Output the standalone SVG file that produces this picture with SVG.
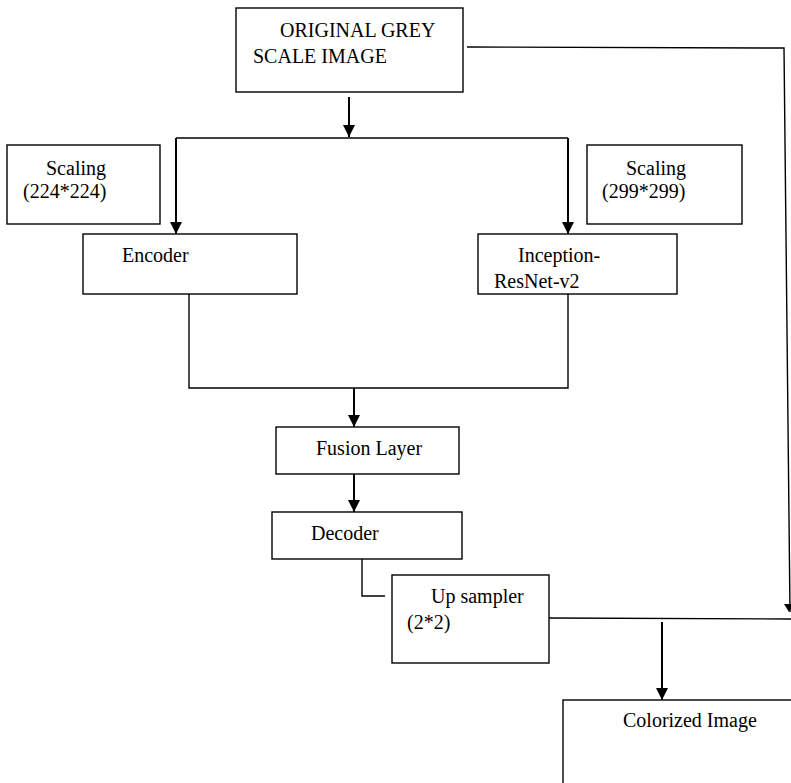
<svg xmlns="http://www.w3.org/2000/svg" width="791" height="783" viewBox="0 0 791 783">
<style>
.box{fill:#fff;stroke:#000;stroke-width:1.4}
.t{font-family:"Liberation Serif","Times New Roman",serif;font-size:20px;fill:#000}
.c{fill:none;stroke:#000;stroke-width:1.4}
.a{fill:none;stroke:#000;stroke-width:2}
</style>
<defs>
<marker id="ah" markerUnits="userSpaceOnUse" markerWidth="14" markerHeight="14" viewBox="0 0 14 14" refX="12" refY="7" orient="auto">
<path d="M0,1 L12,7 L0,13 Z" fill="#000"/>
</marker>
</defs>
<rect width="791" height="783" fill="#fff"/>
<g id="connectors">
<path class="c" d="M467,47 L784,48 L790,612"/>
<path class="a" d="M349,97 L349,137"/>
<path class="c" d="M176,138 L568,138"/>
<path class="a" d="M176,138 L176,234" marker-end="url(#ah)"/>
<path class="a" d="M568,138 L568,234" marker-end="url(#ah)"/>
<path class="c" d="M189,294 L189,388 L568,388 L568,294"/>
<path class="a" d="M354,388 L354,427" marker-end="url(#ah)"/>
<path class="a" d="M354,474 L354,512" marker-end="url(#ah)"/>
<path class="c" d="M362,559 L362,596 L385,596"/>
<path class="c" d="M549,618 L791,619"/>
<path class="a" d="M662,622 L662,700" marker-end="url(#ah)"/>
<path d="M343,125 L355,125 L349,137 Z" fill="#000"/>
<path d="M784,604 L794,604 L789,612 Z" fill="#000"/>
</g>
<g id="original">
<rect class="box" x="236" y="8" width="227" height="84"/>
<text class="t" x="280" y="37">ORIGINAL GREY</text>
<text class="t" x="253" y="63">SCALE IMAGE</text>
</g>
<g id="scaling224">
<rect class="box" x="7" y="145" width="153" height="79"/>
<text class="t" x="46" y="175">Scaling</text>
<text class="t" x="23" y="198">(224*224)</text>
</g>
<g id="scaling299">
<rect class="box" x="587" y="145" width="155" height="79"/>
<text class="t" x="626" y="175">Scaling</text>
<text class="t" x="602" y="198">(299*299)</text>
</g>
<g id="encoder">
<rect class="box" x="83" y="234" width="214" height="60"/>
<text class="t" x="122" y="262">Encoder</text>
</g>
<g id="inception">
<rect class="box" x="478" y="234" width="199" height="60"/>
<text class="t" x="518" y="262">Inception-</text>
<text class="t" x="494" y="288">ResNet-v2</text>
</g>
<g id="fusion">
<rect class="box" x="276" y="427" width="183" height="47"/>
<text class="t" x="316" y="455">Fusion Layer</text>
</g>
<g id="decoder">
<rect class="box" x="272" y="512" width="190" height="47"/>
<text class="t" x="311" y="540">Decoder</text>
</g>
<g id="upsampler">
<rect class="box" x="392" y="575" width="157" height="88"/>
<text class="t" x="431" y="603">Up sampler</text>
<text class="t" x="407" y="629">(2*2)</text>
</g>
<g id="colorized">
<rect class="box" x="563" y="700" width="240" height="100"/>
<text class="t" x="623" y="727">Colorized Image</text>
</g>
</svg>
